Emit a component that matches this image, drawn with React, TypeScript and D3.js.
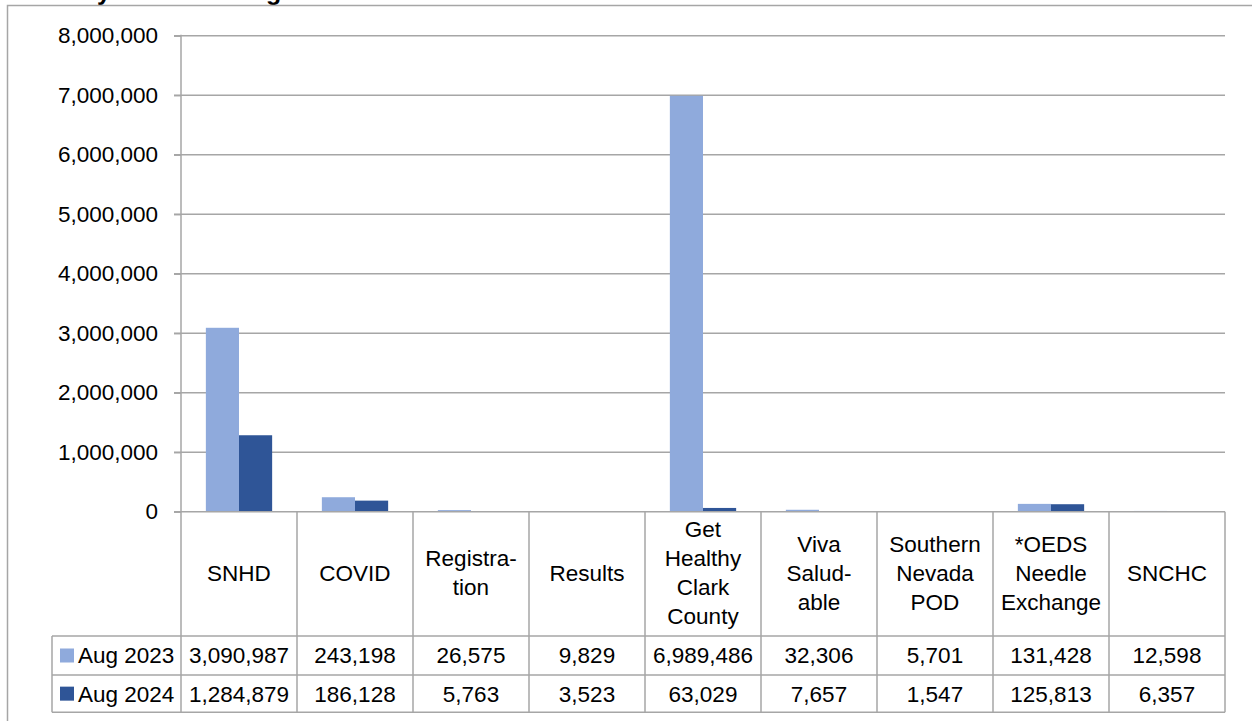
import * as d3 from "d3";
import React, { useEffect, useRef } from "react";

// categories as shown in the data table (line breaks as in the chart)
const categories = [
  "SNHD",
  "COVID",
  "Registra-|tion",
  "Results",
  "Get|Healthy|Clark|County",
  "Viva|Salud-|able",
  "Southern|Nevada|POD",
  "*OEDS|Needle|Exchange",
  "SNCHC",
];
const seriesNames = ["Aug 2023", "Aug 2024"];
const aug2023 = [3090987, 243198, 26575, 9829, 6989486, 32306, 5701, 131428, 12598];
const aug2024 = [1284879, 186128, 5763, 3523, 63029, 7657, 1547, 125813, 6357];
const yTicks = [0, 1000000, 2000000, 3000000, 4000000, 5000000, 6000000, 7000000, 8000000];
const colors = ["#8FAADC", "#2F5597"];

const W = 1252;
const H = 721;

export default function App() {
  const svgRef = useRef<SVGSVGElement>(null);

  useEffect(() => {
    const svg = d3.select(svgRef.current);
    svg.selectAll("*").remove();

    const font = "'Liberation Sans', Arial, sans-serif";
    const fs = 22.5;
    const grid = "#a6a6a6";

    const left = 181, right = 1225, top = 35.7, bottom = 511.7;
    const headerBottom = 636, row1Bottom = 675, row2Bottom = 712.3;
    const legendLeft = 52;

    const x = d3.scaleBand<string>().domain(categories).range([left, right]);
    const x1 = d3.scaleBand<string>().domain(seriesNames).range([0, x.bandwidth()]).paddingOuter(0.75);
    const y = d3.scaleLinear().domain([0, 8000000]).range([bottom, top]);
    const fmt = d3.format(",");

    // title, cut off at the top edge like in the original
    svg.append("text")
      .attr("x", 15).attr("y", 0)
      .attr("font-family", font).attr("font-size", 25).attr("font-weight", "bold")
      .text("Monthly Website Usage");

    // outer border
    svg.append("path")
      .attr("d", `M7.5,${H} V5.5 H${W}`)
      .attr("fill", "none").attr("stroke", grid).attr("stroke-width", 1.5);

    // gridlines
    svg.append("g").selectAll("line").data(yTicks.filter(d => d > 0)).join("line")
      .attr("x1", 174).attr("x2", right)
      .attr("y1", d => y(d)).attr("y2", d => y(d))
      .attr("stroke", grid).attr("stroke-width", 1.5);

    // y axis
    const yAxis = d3.axisLeft(y).tickValues(yTicks).tickFormat(d => fmt(d as number)).tickSize(7).tickPadding(16);
    const ga = svg.append("g").attr("transform", `translate(${left},0)`).call(yAxis);
    ga.select(".domain").remove();
    ga.selectAll(".tick line").attr("stroke", grid).attr("stroke-width", 1.5);
    ga.selectAll(".tick text").attr("font-family", font).attr("font-size", fs).attr("fill", "#000");

    // bars
    const data = [aug2023, aug2024];
    data.forEach((vals, si) => {
      svg.append("g").selectAll("rect").data(vals).join("rect")
        .attr("x", (d, i) => (x(categories[i]) as number) + (x1(seriesNames[si]) as number))
        .attr("width", x1.bandwidth())
        .attr("y", d => y(d))
        .attr("height", d => bottom - y(d))
        .attr("fill", colors[si]);
    });

    // table lines
    const tl = svg.append("g").attr("stroke", grid).attr("stroke-width", 1.5).attr("fill", "none");
    tl.append("line").attr("x1", 174).attr("x2", right).attr("y1", bottom).attr("y2", bottom);
    tl.append("line").attr("x1", left).attr("x2", left).attr("y1", top - 1).attr("y2", row2Bottom);
    [headerBottom, row1Bottom, row2Bottom].forEach(yy => {
      tl.append("line").attr("x1", legendLeft).attr("x2", right).attr("y1", yy).attr("y2", yy);
    });
    tl.append("line").attr("x1", legendLeft).attr("x2", legendLeft).attr("y1", headerBottom).attr("y2", row2Bottom);
    categories.forEach(c => {
      const xr = (x(c) as number) + x.bandwidth();
      tl.append("line").attr("x1", xr).attr("x2", xr).attr("y1", bottom).attr("y2", row2Bottom);
    });

    // category headers
    const lh = 29;
    const hc = (bottom + headerBottom) / 2 - 1;
    categories.forEach(c => {
      const lines = c.split("|");
      const cx = (x(c) as number) + x.bandwidth() / 2;
      const t = svg.append("text")
        .attr("text-anchor", "middle").attr("font-family", font).attr("font-size", fs);
      lines.forEach((ln, k) => {
        t.append("tspan")
          .attr("x", cx)
          .attr("y", hc + (k - (lines.length - 1) / 2) * lh)
          .attr("dy", "0.35em")
          .text(ln);
      });
    });

    // data rows with legend keys
    const rowCenters = [(headerBottom + row1Bottom) / 2, (row1Bottom + row2Bottom) / 2];
    data.forEach((vals, si) => {
      const rc = rowCenters[si];
      svg.append("rect").attr("x", 60).attr("y", rc - 7).attr("width", 14).attr("height", 14).attr("fill", colors[si]);
      svg.append("text").attr("x", 78).attr("y", rc).attr("dy", "0.35em")
        .attr("font-family", font).attr("font-size", fs).text(seriesNames[si]);
      svg.append("g").selectAll("text").data(vals).join("text")
        .attr("x", (d, i) => (x(categories[i]) as number) + x.bandwidth() / 2)
        .attr("y", rc).attr("dy", "0.35em")
        .attr("text-anchor", "middle").attr("font-family", font).attr("font-size", fs)
        .text(d => fmt(d));
    });
  }, []);

  return (
    <svg ref={svgRef} width={W} height={H} viewBox={`0 0 ${W} ${H}`}
      style={{ position: "absolute", left: 0, top: 0, background: "#fff" }} />
  );
}
